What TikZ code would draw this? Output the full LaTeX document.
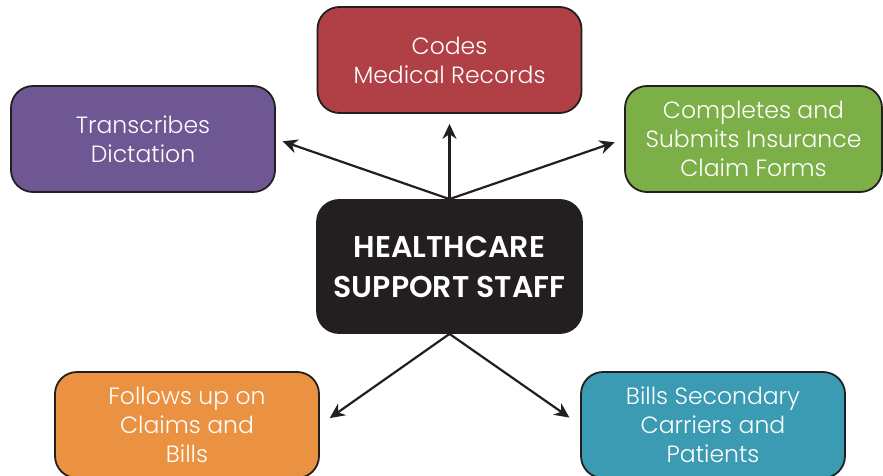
\documentclass[tikz,border=0pt]{standalone}
\usepackage{fontspec}
\setmainfont{Poppins}[UprightFont=* Light, BoldFont=* SemiBold]
\usetikzlibrary{arrows.meta}
\definecolor{cpurple}{HTML}{6F5793}
\definecolor{cred}{HTML}{B04045}
\definecolor{cgreen}{HTML}{7DAF48}
\definecolor{corange}{HTML}{EB9142}
\definecolor{cteal}{HTML}{3A9BB3}
\definecolor{cdark}{HTML}{231F20}
\begin{document}
\begin{tikzpicture}[x=1pt,y=-1pt,
  box/.style={draw=cdark, line width=1.8pt, rounded corners=22pt,
    minimum width=264pt, minimum height=106pt, inner sep=0pt,
    text=white, align=center, font=\fontsize{23.5}{29}\selectfont},
  hub/.style={box, fill=cdark, minimum width=265pt, minimum height=133pt,
    font=\fontsize{30}{40}\selectfont\bfseries},
  conn/.style={draw=cdark, line width=2.2pt, -{Stealth[length=15pt,width=14pt]}}]
\useasboundingbox (0,0) rectangle (883,476);
\clip (0,0) rectangle (883,476);
\fill[white] (0,0) rectangle (883,476);
\node[hub] (c) at (449.5,266.5) {HEALTHCARE\\SUPPORT STAFF};
\node[box, fill=cred] (top) at (449.5,60) {Codes\\Medical Records};
\node[box, fill=cpurple] (l) at (143,139) {Transcribes\\Dictation};
\node[box, fill=cgreen, minimum width=257pt] (r) at (753.5,139) {Completes and\\Submits Insurance\\Claim Forms};
\node[box, fill=corange] (bl) at (187,425) {Follows up on\\Claims and\\Bills};
\node[box, fill=cteal] (br) at (713,425) {Bills Secondary\\Carriers and\\Patients};
\draw[conn, shorten >=10pt] (c.north) -- (top.south);
\draw[conn, shorten >=7pt] (c.north) -- (l.east);
\draw[conn, shorten >=10pt] (c.north) -- (r.west);
\draw[conn, shorten >=12pt] (c.south) -- (bl.east);
\draw[conn, shorten >=13pt] (c.south) -- (br.west);
\end{tikzpicture}
\end{document}
